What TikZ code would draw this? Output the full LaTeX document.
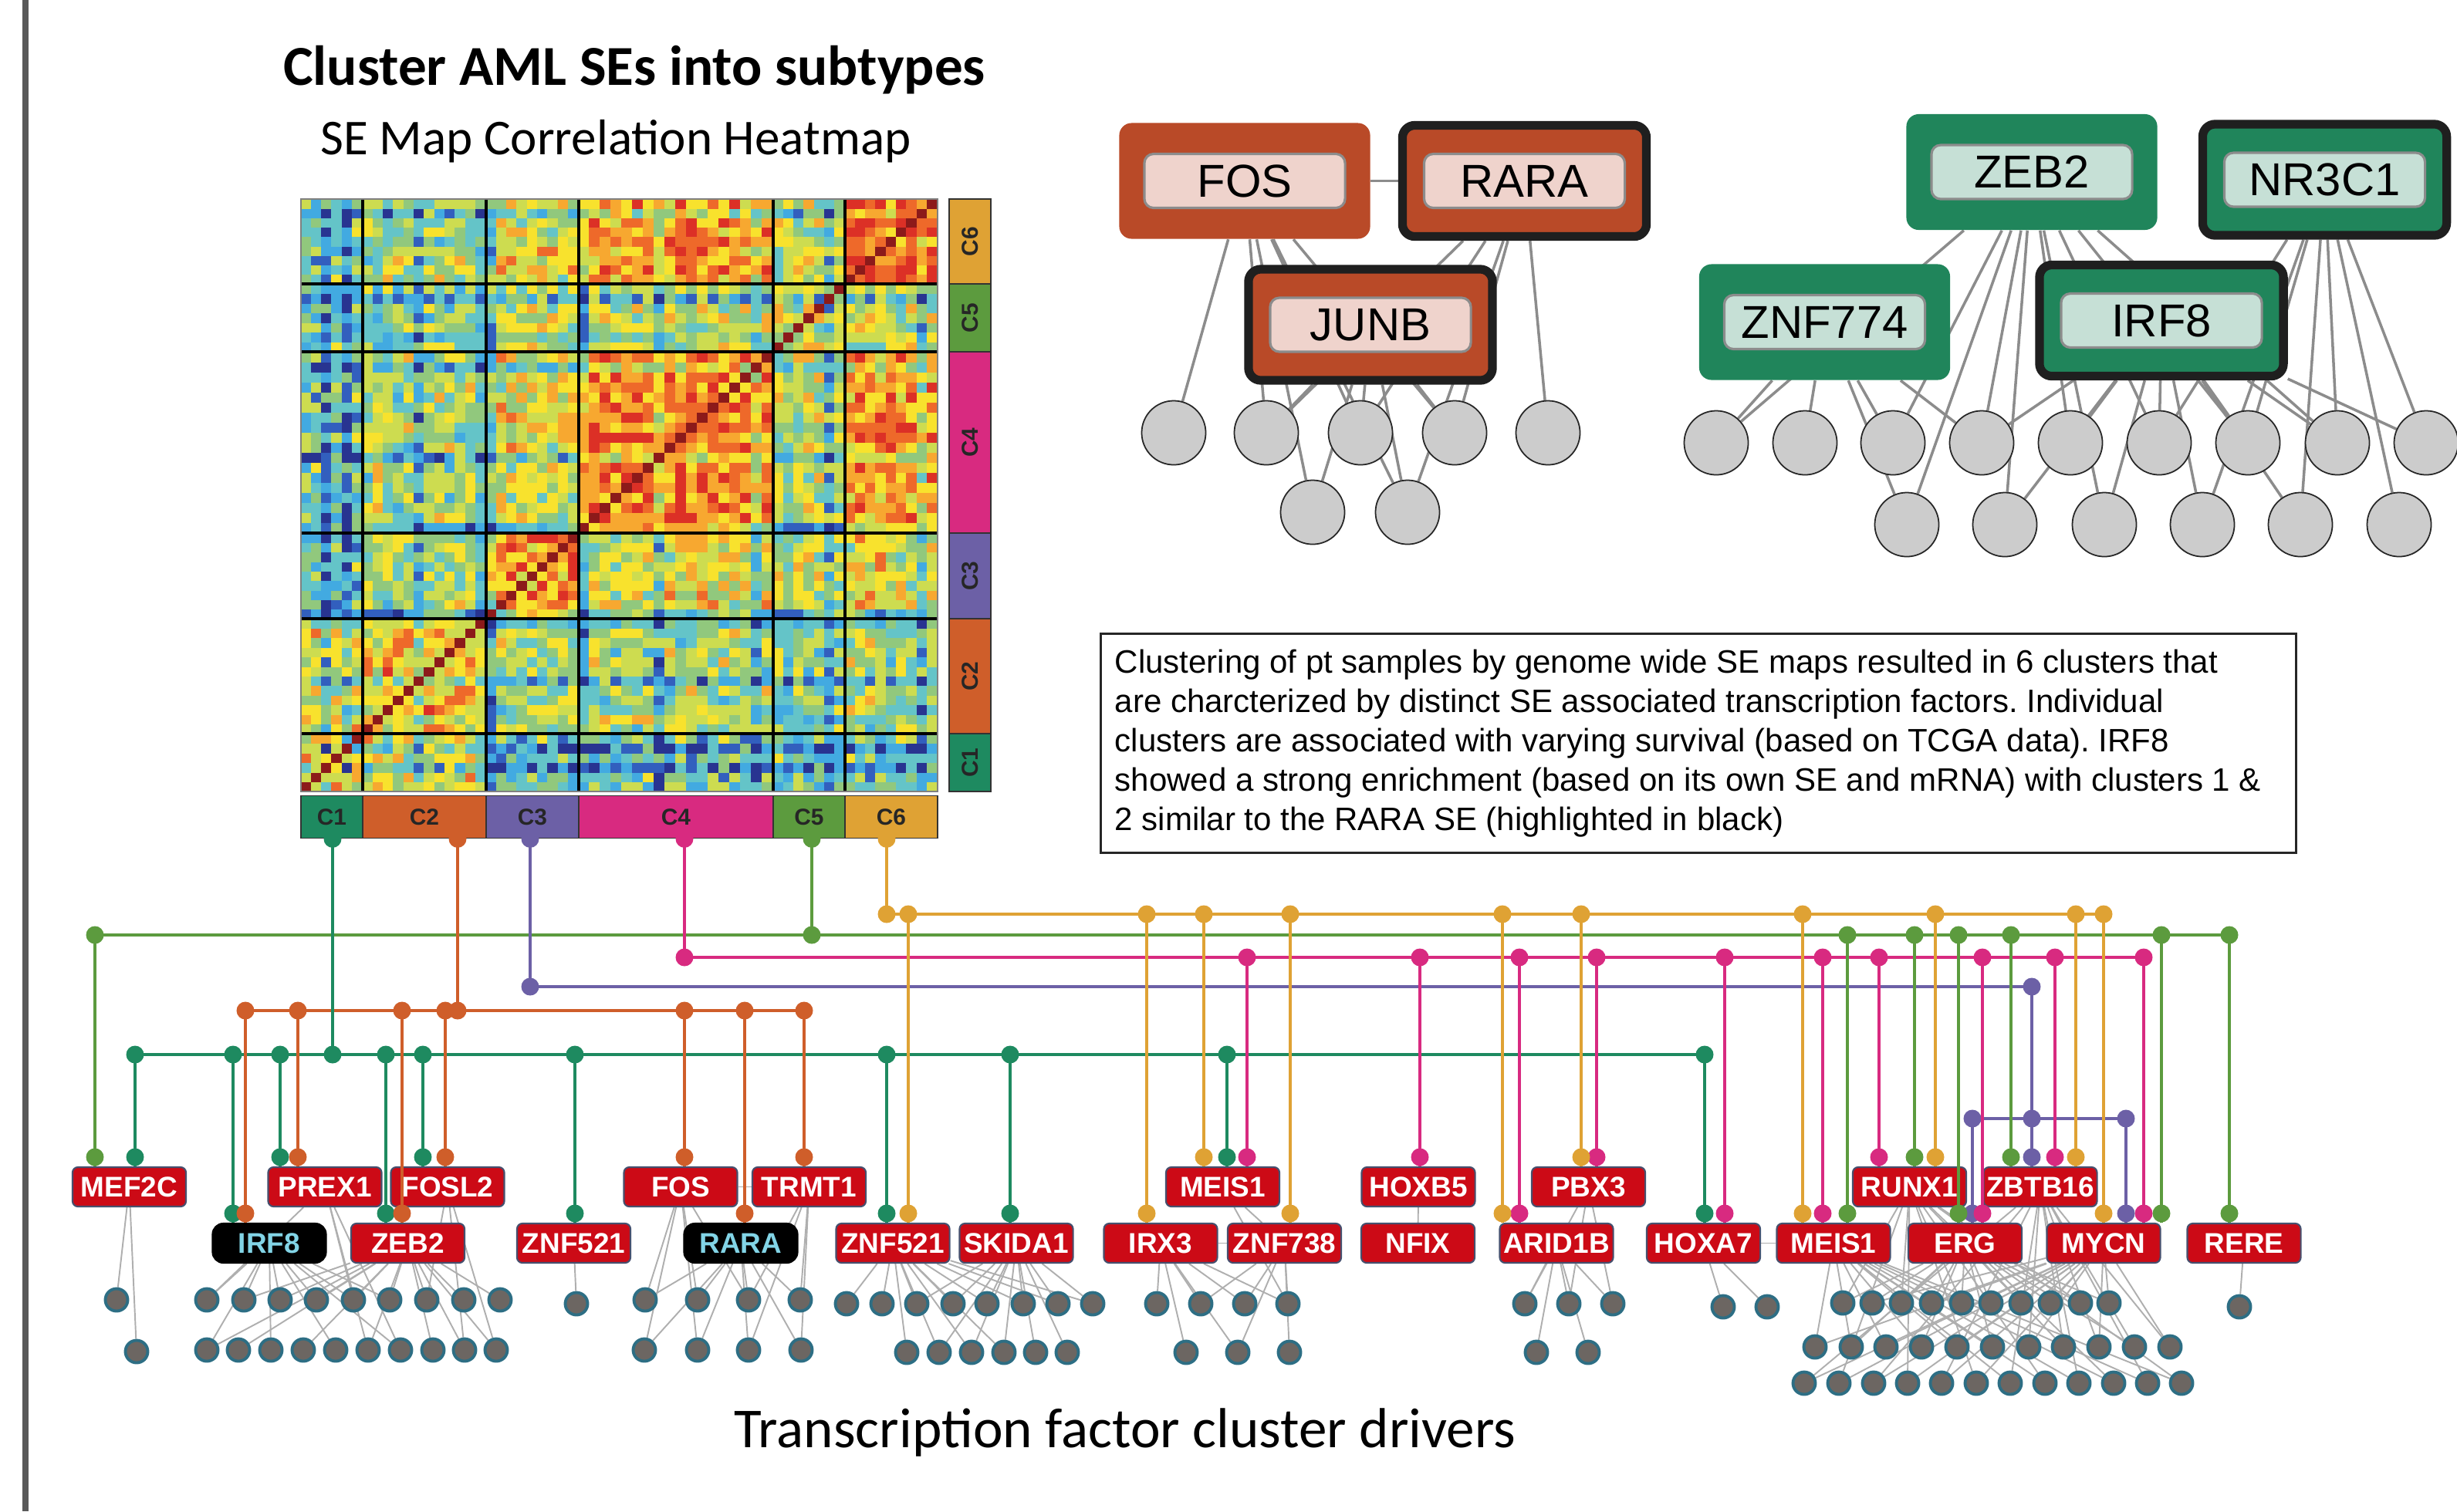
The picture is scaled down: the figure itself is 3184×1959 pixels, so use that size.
\documentclass[tikz,border=0pt]{standalone}
\usepackage{fontspec}
\setmainfont{Liberation Sans}
\newfontfamily\headfont{Carlito}
\usetikzlibrary{calc}

% cluster colours
\definecolor{cone}{RGB}{30,138,96}
\definecolor{ctwo}{RGB}{207,94,42}
\definecolor{cthree}{RGB}{108,96,166}
\definecolor{cfour}{RGB}{216,42,128}
\definecolor{cfive}{RGB}{92,155,62}
\definecolor{csix}{RGB}{223,162,52}
% heatmap scale, low to high
\definecolor{hm0}{RGB}{40,52,145}
\definecolor{hm1}{RGB}{50,95,190}
\definecolor{hm2}{RGB}{66,170,225}
\definecolor{hm3}{RGB}{100,196,200}
\definecolor{hm4}{RGB}{145,200,125}
\definecolor{hm5}{RGB}{205,220,80}
\definecolor{hm6}{RGB}{248,226,45}
\definecolor{hm7}{RGB}{247,168,48}
\definecolor{hm8}{RGB}{238,105,42}
\definecolor{hm9}{RGB}{220,48,38}
\definecolor{hm10}{RGB}{140,26,26}
% drivers and targets
\definecolor{tfred}{RGB}{204,10,22}
\definecolor{tfrim}{RGB}{70,80,110}
\definecolor{keycyan}{RGB}{130,212,230}
\definecolor{genefill}{RGB}{108,102,98}
\definecolor{generim}{RGB}{45,110,132}
\definecolor{geneedge}{RGB}{175,175,175}
\definecolor{hubred}{RGB}{185,74,40}
\definecolor{tagred}{RGB}{239,211,204}
\definecolor{hubgreen}{RGB}{32,133,91}
\definecolor{taggreen}{RGB}{198,224,214}
\definecolor{hubedge}{RGB}{140,140,140}

\pgfdeclarelayer{edges}
\pgfsetlayers{edges,main}

\tikzset{
  busline/.style={line width=1.15pt},
  tfbox/.style={fill=tfred, draw=tfrim, line width=0.6pt, rounded corners=2pt,
    minimum width=1.47cm, minimum height=0.51cm, inner sep=0pt, text=white,
    font=\fontsize{10.5}{12}\selectfont\bfseries},
  tfkey/.style={tfbox, fill=black, draw=black, text=keycyan, rounded corners=4pt},
  gene/.style={circle, fill=genefill, draw=generim, line width=1.1pt,
    minimum size=0.29cm, inner sep=0pt},
  genelink/.style={draw=geneedge, line width=0.55pt},
  hub/.style={rounded corners=0.16cm, minimum width=3.25cm, minimum height=1.5cm, inner sep=0pt},
  hubkey/.style={draw=black!88, line width=3.2pt, minimum width=3.16cm, minimum height=1.44cm},
  tag/.style={rounded corners=0.12cm, draw=black!45, line width=0.9pt, minimum width=2.6cm,
    minimum height=0.7cm, inner sep=0pt, font=\fontsize{17}{20}\selectfont},
  target/.style={circle, fill=black!20, draw=black!85, line width=0.5pt,
    minimum size=0.83cm, inner sep=0pt},
  hublink/.style={draw=hubedge, line width=1pt},
  clusterbar/.style={draw=black!80, line width=0.5pt, inner sep=0pt,
    font=\fontsize{8.5}{10}\selectfont\bfseries, text=black!85},
}

% colour, x, bus y, driver node
\newcommand{\tap}[4]{%
  \draw[#1, busline] (#2,#3) -- (#2,0 |- #4.north);
  \fill[#1] (#2,#3) circle[radius=11.5];
  \fill[#1] ($(#2,0 |- #4.north)+(0,-12)$) circle[radius=11.5];
}
% colour, x, cluster bar, bus y
\newcommand{\feed}[4]{%
  \draw[#1, busline] (#2,0 |- #3.south) -- (#2,#4);
  \fill[#1] (#2,0 |- #3.south) circle[radius=11.5];
  \fill[#1] (#2,#4) circle[radius=11.5];
}

\begin{document}
\begin{tikzpicture}[x=0.01cm, y=-0.01cm]
\useasboundingbox (0,0) rectangle (3184,1959);
\fill[black!65] (29,0) rectangle (37,1959);

% headings
\node[font=\headfont\bfseries\fontsize{20.8}{24}\selectfont] (title) at (822,91) {Cluster AML SEs into subtypes};
\node[font=\headfont\fontsize{18.5}{22}\selectfont] (subtitle) at (798,183) {SE Map Correlation Heatmap};
\node[font=\headfont\fontsize{20.8}{24}\selectfont] (drivers) at (1458,1857) {Transcription factor cluster drivers};

% correlation heatmap, one block per cluster pair
\foreach \ca/\gx/\nx/\xo/\wx in {1/0/6/390/13.3333, 2/6/12/470/13.3333, 3/18/9/630/13.3333,
    4/27/18/750/14, 5/45/7/1002/13.2857, 6/52/9/1095/13.3333}{
  \foreach \cb/\gy/\ny/\yo/\hy in {1/0/6/1026/12.5, 2/6/12/951/12.4167, 3/18/9/802/12.3333,
      4/27/18/691/13.0556, 5/45/7/456/12.5714, 6/52/9/368/12.2222}{
    \pgfmathsetmacro\base{{6.4,5.4,3.3,3.5,3.4,3.6,
                           5.4,6.4,4.4,4.5,4.2,4.5,
                           3.3,4.4,6.9,5.5,5.1,5.5,
                           3.5,4.5,5.5,7.8,4.9,7.1,
                           3.4,4.2,5.1,4.9,5.3,4.8,
                           3.6,4.5,5.5,7.1,4.8,8.5}[(\ca-1)*6+\cb-1]}
    \foreach \i in {1,...,\nx}{
      \foreach \j in {1,...,\ny}{
        \pgfmathtruncatemacro\gi{\gx+\i}
        \pgfmathtruncatemacro\gj{\gy+\j}
        \pgfmathsetmacro\val{\base + 1.5*sin(mod(\gi*\gj,97)*37+(\gi+\gj)*53)
          + 0.8*sin(mod(\gi*\gj,89)*71+(\gi+\gj)*29)
          - 2.0*(sin(\gi*157.3)>0.9) - 2.0*(sin(\gj*157.3)>0.9)}
        \pgfmathtruncatemacro\lev{\gi==\gj ? 10 : max(0,min(9,round(\val)))}
        \path[fill=hm\lev, draw=hm\lev, line width=0.3pt]
          ({\xo+(\i-1)*\wx},{\yo-(\j-1)*\hy}) rectangle ({\xo+\i*\wx},{\yo-\j*\hy});
      }
    }
  }
}
\foreach \x in {470,630,750,1002,1095} \draw[line width=1.1pt] (\x,258) -- (\x,1026);
\foreach \y in {368,456,691,802,951} \draw[line width=1.1pt] (390,\y) -- (1215,\y);
\draw[black!50, line width=0.5pt] (390,258) rectangle (1215,1026);

% cluster bars
\foreach \c/\ya/\yb/\col in {1/951/1026/cone, 2/802/951/ctwo, 3/691/802/cthree,
    4/456/691/cfour, 5/368/456/cfive, 6/258/368/csix}{
  \filldraw[fill=\col, draw=black!80, line width=0.5pt] (1230,\ya) rectangle (1284,\yb);
  \node[rotate=90, font=\fontsize{8.5}{10}\selectfont\bfseries, text=black!85] (side\c) at (1257,{(\ya+\yb)/2}) {C\c};
}
\foreach \c/\xa/\xb/\col in {1/390/470/cone, 2/470/630/ctwo, 3/630/750/cthree,
    4/750/1002/cfour, 5/1002/1095/cfive, 6/1095/1215/csix}{
  \pgfmathsetmacro\bw{(\xb-\xa)/100}
  \node[clusterbar, fill=\col, minimum width=\bw cm, minimum height=0.55cm] (cbar\c) at ({(\xa+\xb)/2},1059) {C\c};
}

% summary
\node[draw=black!85, line width=0.8pt, anchor=north west, inner sep=0pt,
  minimum width=15.48cm, minimum height=2.84cm] (note) at (1425,820) {};
\node[anchor=west, inner sep=0pt, align=left,
  font=\frenchspacing\fontsize{11.95}{14.5}\selectfont] (notetext) at ($(note.west)+(19,0)$)
  {Clustering of pt samples by genome wide SE maps resulted in 6 clusters that\\
   are charcterized by distinct SE associated transcription factors. Individual\\
   clusters are associated with varying survival (based on TCGA data). IRF8\\
   showed a strong enrichment (based on its own SE and mRNA) with clusters 1 \&\\
   2 similar to the RARA SE (highlighted in black)};

% cluster 2 network
\node[hub, fill=hubred] (hubFOS) at (1613,234.5) {};
\node[tag, fill=tagred] at (hubFOS) {FOS};
\node[hub, hubkey, fill=hubred] (hubRARA) at (1975.5,234.5) {};
\node[tag, fill=tagred] at (hubRARA) {RARA};
\node[hub, hubkey, fill=hubred] (hubJUNB) at (1776,421) {};
\node[tag, fill=tagred] at (hubJUNB) {JUNB};
\foreach \x [count=\k] in {1521,1641,1763,1885,2006} \node[target] (ra\k) at (\x,561) {};
\foreach \x [count=\k] in {1701,1824} \node[target] (rb\k) at (\x,664) {};

% cluster 1 network
\node[hub, fill=hubgreen] (hubZEB2) at (2633,223) {};
\node[tag, fill=taggreen] at (hubZEB2) {ZEB2};
\node[hub, hubkey, fill=hubgreen] (hubNR3C1) at (3012.5,233) {};
\node[tag, fill=taggreen] at (hubNR3C1) {NR3C1};
\node[hub, fill=hubgreen] (hubZNF774) at (2364.5,417.5) {};
\node[tag, fill=taggreen] at (hubZNF774) {ZNF774};
\node[hub, hubkey, fill=hubgreen] (hubIRF8) at (2801,415.5) {};
\node[tag, fill=taggreen] at (hubIRF8) {IRF8};
\foreach \x [count=\k] in {2224,2339,2453,2568,2683,2798,2913,3029,3144} \node[target] (ga\k) at (\x,574) {};
\foreach \x [count=\k] in {2471,2598,2727,2854,2981,3109} \node[target] (gb\k) at (\x,680) {};

\begin{pgfonlayer}{edges}
  \draw[hublink] (hubFOS) -- (hubRARA);
  \foreach \t in {ra1,ra2,ra3,ra4,rb1,rb2} \draw[hublink] (hubFOS) -- (\t);
  \foreach \t in {ra2,ra3,ra4,ra5,rb2} \draw[hublink] (hubRARA) -- (\t);
  \foreach \t in {ra2,ra3,ra4,rb1,rb2} \draw[hublink] (hubJUNB) -- (\t);
  \foreach \t in {ga1,ga3,ga4,ga5,ga6,ga7,ga8,gb1,gb2,gb3} \draw[hublink] (hubZEB2) -- (\t);
  \foreach \t in {ga1,ga2,ga3,ga4,gb1} \draw[hublink] (hubZNF774) -- (\t);
  \foreach \t in {ga4,ga5,ga6,ga7,ga8,ga9,gb2,gb3,gb4,gb5} \draw[hublink] (hubIRF8) -- (\t);
  \foreach \t in {ga6,ga7,ga8,ga9,gb4,gb5,gb6} \draw[hublink] (hubNR3C1) -- (\t);
\end{pgfonlayer}

% transcription factor drivers, upper row
\node[tfbox] (MEF2C) at (167.5,1538.5) {MEF2C};
\node[tfbox] (PREX1) at (421,1538.5) {PREX1};
\node[tfbox] (FOSL2) at (580,1538.5) {FOSL2};
\node[tfbox] (FOS) at (882,1538.5) {FOS};
\node[tfbox] (TRMT1) at (1048.5,1538.5) {TRMT1};
\node[tfbox] (MEIS1a) at (1584.5,1538.5) {MEIS1};
\node[tfbox] (HOXB5) at (1838,1538.5) {HOXB5};
\node[tfbox] (PBX3) at (2058.5,1538.5) {PBX3};
\node[tfbox] (RUNX1) at (2474.5,1538.5) {RUNX1};
\node[tfbox] (ZBTB16) at (2644,1538.5) {ZBTB16};
% lower row
\node[tfkey] (IRF8) at (349,1611.5) {IRF8};
\node[tfbox] (ZEB2) at (528.5,1611.5) {ZEB2};
\node[tfbox] (ZNF521a) at (743.5,1611.5) {ZNF521};
\node[tfkey] (RARA) at (960,1611.5) {RARA};
\node[tfbox] (ZNF521b) at (1157,1611.5) {ZNF521};
\node[tfbox] (SKIDA1) at (1317,1611.5) {SKIDA1};
\node[tfbox] (IRX3) at (1504,1611.5) {IRX3};
\node[tfbox] (ZNF738) at (1664.5,1611.5) {ZNF738};
\node[tfbox] (NFIX) at (1837.5,1611.5) {NFIX};
\node[tfbox] (ARID1B) at (2017,1611.5) {ARID1B};
\node[tfbox] (HOXA7) at (2207.5,1611.5) {HOXA7};
\node[tfbox] (MEIS1b) at (2376,1611.5) {MEIS1};
\node[tfbox] (ERG) at (2546.5,1611.5) {ERG};
\node[tfbox] (MYCN) at (2726,1611.5) {MYCN};
\node[tfbox] (RERE) at (2908,1611.5) {RERE};

% target genes
\node[gene] (g1a) at (151,1685) {};
\node[gene] (g1b) at (177,1752) {};
\foreach \x [count=\k] in {268,316,363,410,458,505,553,601,648} \node[gene] (g2a\k) at (\x,1685) {};
\foreach \x [count=\k] in {268,309,351,393,435,477,519,561,602,643} \node[gene] (g2b\k) at (\x,1750) {};
\node[gene] (g3a) at (747,1690) {};
\foreach \x [count=\k] in {836,904,970,1037} \node[gene] (g4a\k) at (\x,1685) {};
\foreach \x [count=\k] in {835,904,970,1038} \node[gene] (g4b\k) at (\x,1750) {};
\foreach \x [count=\k] in {1097,1143,1188,1235,1279,1326,1371,1416} \node[gene] (g5a\k) at (\x,1690) {};
\foreach \x [count=\k] in {1175,1217,1259,1301,1342,1383} \node[gene] (g5b\k) at (\x,1753) {};
\foreach \x [count=\k] in {1499,1556,1613,1669} \node[gene] (g6a\k) at (\x,1690) {};
\foreach \x [count=\k] in {1537,1604,1671} \node[gene] (g6b\k) at (\x,1753) {};
\foreach \x [count=\k] in {1976,2033,2090} \node[gene] (g7a\k) at (\x,1690) {};
\foreach \x [count=\k] in {1991,2058} \node[gene] (g7b\k) at (\x,1753) {};
\foreach \x [count=\k] in {2233,2290} \node[gene] (g8a\k) at (\x,1694) {};
\foreach \x [count=\k] in {2388,2426,2464,2503,2542,2580,2619,2657,2696,2733} \node[gene] (g9a\k) at (\x,1689) {};
\foreach \x [count=\k] in {2352,2399,2444,2490,2536,2582,2629,2674,2720,2766,2812} \node[gene] (g9b\k) at (\x,1746) {};
\foreach \x [count=\k] in {2338,2383,2428,2472,2516,2561,2605,2650,2694,2739,2783,2827} \node[gene] (g9c\k) at (\x,1793) {};
\node[gene] (g10a) at (2902,1694) {};

\begin{pgfonlayer}{edges}
  \draw[genelink] (FOS) -- (TRMT1);
  \draw[genelink] (IRX3) -- (ZNF738);
  \draw[genelink] (HOXA7) -- (MEIS1b);
  \draw[genelink] (HOXB5) -- (NFIX);
  \draw[genelink] (MEIS1a) -- (ZNF738);
  \draw[genelink] (MEF2C) -- (g1a);
  \draw[genelink] (MEF2C) -- (g1b);
  \foreach \k in {1,...,6} \draw[genelink] (IRF8) -- (g2a\k);
  \foreach \k in {1,3,5,7} \draw[genelink] (IRF8) -- (g2b\k);
  \foreach \k in {2,...,9} \draw[genelink] (ZEB2) -- (g2a\k);
  \foreach \k in {1,2,4,6,8,9,10} \draw[genelink] (ZEB2) -- (g2b\k);
  \foreach \k in {1,5} \draw[genelink] (PREX1) -- (g2a\k);
  \foreach \k in {6,7} \draw[genelink] (PREX1) -- (g2b\k);
  \draw[genelink] (FOSL2) -- (g2a7);
  \foreach \k in {9,10} \draw[genelink] (FOSL2) -- (g2b\k);
  \draw[genelink] (ZNF521a) -- (g3a);
  \foreach \t in {g4a1,g4a2,g4a3,g4b1,g4b2} \draw[genelink] (FOS) -- (\t);
  \foreach \k in {1,...,4} {\draw[genelink] (RARA) -- (g4a\k); \draw[genelink] (RARA) -- (g4b\k);}
  \foreach \t in {g4a3,g4a4,g4b3,g4b4} \draw[genelink] (TRMT1) -- (\t);
  \foreach \k in {1,...,8} \draw[genelink] (ZNF521b) -- (g5a\k);
  \foreach \k in {1,...,4} \draw[genelink] (ZNF521b) -- (g5b\k);
  \foreach \k in {3,...,8} \draw[genelink] (SKIDA1) -- (g5a\k);
  \foreach \k in {2,...,6} \draw[genelink] (SKIDA1) -- (g5b\k);
  \foreach \t in {g6a1,g6a2,g6a3,g6a4,g6b1,g6b2} \draw[genelink] (IRX3) -- (\t);
  \foreach \t in {g6a2,g6a3,g6a4,g6b2,g6b3} \draw[genelink] (ZNF738) -- (\t);
  \draw[genelink] (MEIS1a) -- (g6a4);
  \foreach \t in {g7a1,g7a2,g7a3,g7b1,g7b2} \draw[genelink] (ARID1B) -- (\t);
  \foreach \t in {g7a1,g7a2,g7a3} \draw[genelink] (PBX3) -- (\t);
  \foreach \t in {g8a1,g8a2} \draw[genelink] (HOXA7) -- (\t);
  \foreach \k in {1,...,10}{
    \draw[genelink] (ERG) -- (g9a\k);
    \ifodd\k \draw[genelink] (RUNX1) -- (g9a\k); \else \draw[genelink] (MYCN) -- (g9a\k); \fi
  }
  \foreach \k in {1,...,11}{
    \ifnum\k<7 \draw[genelink] (MEIS1b) -- (g9b\k); \else \draw[genelink] (ZBTB16) -- (g9b\k); \fi
    \ifodd\k \draw[genelink] (MYCN) -- (g9b\k); \else \draw[genelink] (ERG) -- (g9b\k); \fi
  }
  \foreach \k in {1,...,12}{
    \ifnum\k<7 \draw[genelink] (MYCN) -- (g9c\k); \else \draw[genelink] (MEIS1b) -- (g9c\k); \fi
    \ifodd\k \draw[genelink] (ZBTB16) -- (g9c\k); \else \draw[genelink] (RUNX1) -- (g9c\k); \fi
  }
  \draw[genelink] (RERE) -- (g10a);
\end{pgfonlayer}

% cluster buses and their drivers
\coordinate (busoneW) at (175,1367);   \coordinate (busoneE) at (2209,1367);
\coordinate (bustwoW) at (318,1310);   \coordinate (bustwoE) at (1042,1310);
\coordinate (busthreeW) at (687,1279); \coordinate (busthreeE) at (2633,1279);
\coordinate (busfourW) at (887,1241);  \coordinate (busfourE) at (2778,1241);
\coordinate (busfiveW) at (123,1212);  \coordinate (busfiveE) at (2889,1212);
\coordinate (bussixW) at (1149,1185);  \coordinate (bussixE) at (2726,1185);
\coordinate (busthreeL) at (2556,1450); \coordinate (busthreeR) at (2755,1450);

\draw[csix, busline] (bussixW) -- (bussixE);
\draw[cfive, busline] (busfiveW) -- (busfiveE);
\draw[cfour, busline] (busfourW) -- (busfourE);
\draw[cthree, busline] (busthreeW) -- (busthreeE);
\draw[ctwo, busline] (bustwoW) -- (bustwoE);
\draw[cone, busline] (busoneW) -- (busoneE);
\draw[cthree, busline] (busthreeL) -- (busthreeR);

\feed{cone}{431}{cbar1}{1367}
\feed{ctwo}{593}{cbar2}{1310}
\feed{cthree}{687}{cbar3}{1279}
\feed{cfour}{887}{cbar4}{1241}
\feed{cfive}{1052}{cbar5}{1212}
\feed{csix}{1149}{cbar6}{1185}

\foreach \x/\tf in {175/MEF2C, 302/IRF8, 363/PREX1, 500/ZEB2, 548/FOSL2, 745/ZNF521a,
    1149/ZNF521b, 1309/SKIDA1, 1590/MEIS1a, 2209/HOXA7} {\tap{cone}{\x}{1367}{\tf}}
\foreach \x/\tf in {318/IRF8, 386/PREX1, 521/ZEB2, 577/FOSL2, 887/FOS, 965/RARA, 1042/TRMT1} {\tap{ctwo}{\x}{1310}{\tf}}
\tap{cthree}{2633}{1279}{ZBTB16}
\fill[cthree] (2633,1450) circle[radius=11.5];
\foreach \x/\tf in {2556/ERG, 2755/MYCN} {\tap{cthree}{\x}{1450}{\tf}}
\foreach \x/\tf in {1616/MEIS1a, 1840/HOXB5, 1969/ARID1B, 2069/PBX3, 2235/HOXA7, 2362/MEIS1b,
    2435/RUNX1, 2569/ERG, 2663/ZBTB16, 2778/MYCN} {\tap{cfour}{\x}{1241}{\tf}}
\foreach \x/\tf in {123/MEF2C, 2394/MEIS1b, 2481/RUNX1, 2538/ERG, 2606/ZBTB16, 2801/MYCN, 2889/RERE} {\tap{cfive}{\x}{1212}{\tf}}
\foreach \x/\tf in {1177/ZNF521b, 1486/IRX3, 1560/MEIS1a, 1672/ZNF738, 1947/ARID1B, 2049/PBX3,
    2336/MEIS1b, 2508/RUNX1, 2690/ZBTB16, 2726/MYCN} {\tap{csix}{\x}{1185}{\tf}}
\end{tikzpicture}
\end{document}
